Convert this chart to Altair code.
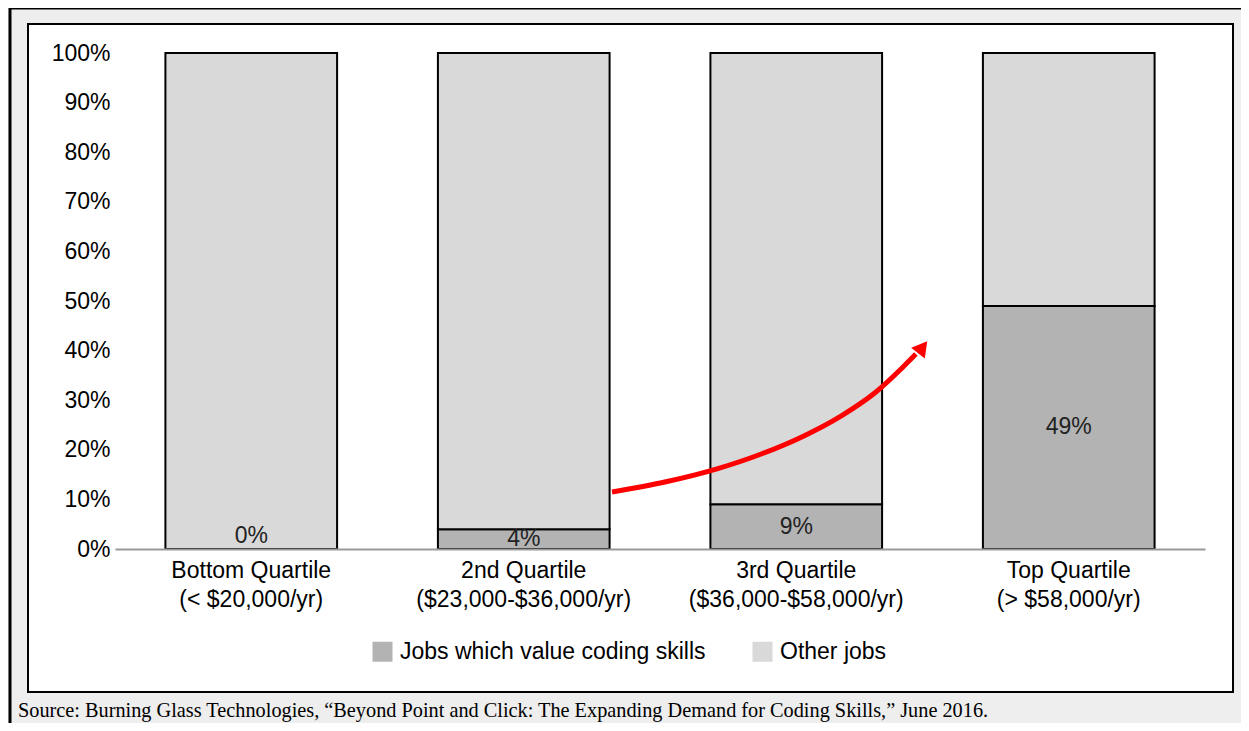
import altair as alt
import pandas as pd

# ---- data ----
categories = [
    "Bottom Quartile|(< $20,000/yr)",
    "2nd Quartile|($23,000-$36,000/yr)",
    "3rd Quartile|($36,000-$58,000/yr)",
    "Top Quartile|(> $58,000/yr)",
]
coding_pct = [0, 4, 9, 49]
other_pct = [100, 96, 91, 51]
series = ["Jobs which value coding skills", "Other jobs"]
y_ticks = [0, 10, 20, 30, 40, 50, 60, 70, 80, 90, 100]

# red annotation arrow path (x in category-step units, y in %)
arrow_x = [1.824, 2.018, 2.206, 2.374, 2.528, 2.664, 2.789, 2.892, 2.939]
arrow_y = [11.5, 13.5, 16.1, 19.2, 22.8, 26.8, 31.5, 36.7, 39.3]
arrow_head_x = [2.958]
arrow_head_y = [40.3]

source_text = ("Source: Burning Glass Technologies, \u201cBeyond Point and Click: "
               "The Expanding Demand for Coding Skills,\u201d June 2016.")

FONT = "Liberation Sans"
FS = 23

rows = []
for c, a, b in zip(categories, coding_pct, other_pct):
    rows.append({"cat": c, "series": series[0], "value": a, "order": 0})
    rows.append({"cat": c, "series": series[1], "value": b, "order": 1})
df = pd.DataFrame(rows)
lab_df = pd.DataFrame({"cat": categories, "coding": coding_pct})
arrow_df = pd.DataFrame({"x": arrow_x, "y": arrow_y})
head_df = pd.DataFrame({"x": arrow_head_x, "y": arrow_head_y})
one = pd.DataFrame({"t": [source_text]})

W, H = 1090, 496

xband = alt.X("cat:N", sort=categories,
              scale=alt.Scale(paddingInner=0.37, paddingOuter=0.185),
              axis=alt.Axis(labelExpr="split(datum.label, '|')", labelAngle=0,
                            labelFontSize=FS, labelFont=FONT, labelColor="black",
                            labelLineHeight=29, labelPadding=10, ticks=False,
                            labelLimit=600,
                            domainColor="#999999", domainWidth=2, title=None,
                            zindex=1))
yscale = alt.Scale(domain=[0, 100], nice=False)

outer = alt.Chart(one).mark_rect(fill="#eeeeee", stroke="black", strokeWidth=3).encode(
    x=alt.value(-105), x2=alt.value(1140), y=alt.value(-45), y2=alt.value(680))
inner = alt.Chart(one).mark_rect(fill="white", stroke="black", strokeWidth=2).encode(
    x=alt.value(-87), x2=alt.value(1118), y=alt.value(-29), y2=alt.value(639))
src = alt.Chart(one).mark_text(align="left", baseline="alphabetic", font="Liberation Serif",
                               fontSize=20.3, color="black").encode(
    x=alt.value(-97), y=alt.value(664), text="t:N")

bars = alt.Chart(df).mark_bar(stroke="black", strokeWidth=2).encode(
    x=xband,
    y=alt.Y("value:Q", stack="zero", scale=yscale,
            axis=alt.Axis(values=y_ticks, labelExpr="datum.value + '%'",
                          domain=False, ticks=False, grid=False,
                          labelFontSize=FS, labelFont=FONT, labelColor="black",
                          labelPadding=5, title=None, zindex=1)),
    color=alt.Color("series:N", sort=series,
                    scale=alt.Scale(domain=series, range=["#b3b3b3", "#d9d9d9"]),
                    legend=alt.Legend(orient="none", legendX=256, legendY=587,
                                      direction="horizontal", title=None,
                                      symbolType="square", symbolSize=400,
                                      symbolStrokeWidth=0, labelFontSize=FS,
                                      labelFont=FONT, labelColor="black",
                                      labelOffset=6, columnPadding=45,
                                      labelLimit=500)),
    order=alt.Order("order:Q"),
)

labels = alt.Chart(lab_df).transform_calculate(
    pos="datum.coding > 0 ? datum.coding / 2 : 2.6",
    txt="datum.coding + '%'",
).mark_text(fontSize=FS, font=FONT, color="#222222", baseline="middle").encode(
    x=alt.X("cat:N", sort=categories), y=alt.Y("pos:Q", scale=yscale), text="txt:N")

xq = alt.Scale(domain=[0, 4], nice=False)
arrow = alt.Chart(arrow_df).mark_line(color="#ff0000", strokeWidth=5,
                                      interpolate="monotone").encode(
    x=alt.X("x:Q", scale=xq, axis=None), y=alt.Y("y:Q", scale=yscale))
head = alt.Chart(head_df).mark_point(shape="triangle", filled=True, color="#ff0000",
                                     opacity=1, size=300, angle=38).encode(
    x=alt.X("x:Q", scale=xq, axis=None), y=alt.Y("y:Q", scale=yscale))

chart = alt.layer(outer, inner, src, bars, labels, arrow, head).resolve_scale(
    x="independent"
).properties(
    width=W, height=H, background="#eeeeee",
    padding={"left": 107, "top": 45, "right": 36, "bottom": 174},
    autosize=alt.AutoSizeParams(type="none"),
).configure_view(stroke=None)

chart.save("out.html", embed_options={"renderer": "svg", "actions": False})
